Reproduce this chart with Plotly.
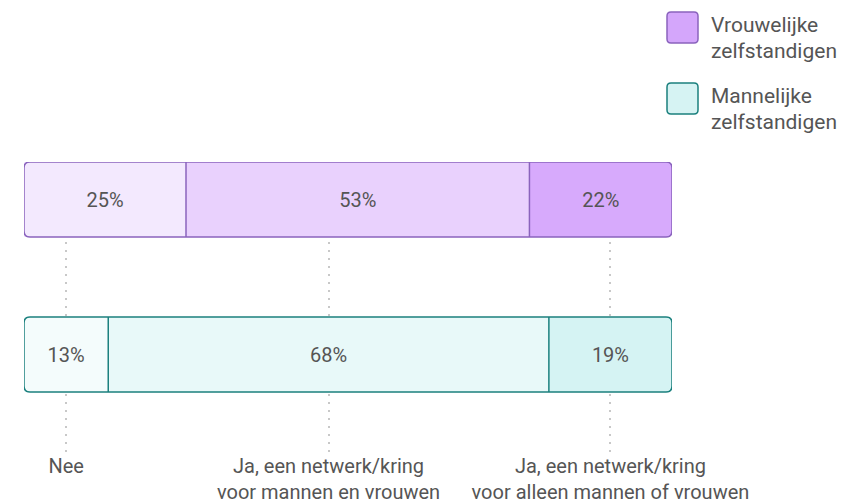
import plotly.graph_objects as go

# ---- data ----
categories = ["Nee",
              "Ja, een netwerk/kring voor mannen en vrouwen",
              "Ja, een netwerk/kring voor alleen mannen of vrouwen"]
tick_labels = ["Nee",
               "Ja, een netwerk/kring<br>voor mannen en vrouwen",
               "Ja, een netwerk/kring<br>voor alleen mannen of vrouwen"]
groups = ["Vrouwelijke zelfstandigen", "Mannelijke zelfstandigen"]
vrouw = [25, 53, 22]
man = [13, 68, 19]
rows = [vrouw, man]
row_pos = [1, 0]

# ---- styles ----
FONT = "Roboto"
TXT = "#555555"
fills = [["#f3e9fe", "#e9d1fd", "#d7aafc"],
         ["#f4fcfc", "#e8f9f9", "#d5f3f3"]]
line_cols = ["#8a63bd", "#1b807e"]
legend_fill = ["#d4a6fb", "#d6f3f3"]

BAR_W = 0.484
R = 6  # px corner radius
# plot area geometry (px) used to convert the corner radius to data units
PLOT_W, PLOT_H = 648, 290
YR = [-0.629, 1.242]
rx = R * 100 / PLOT_W
ry = R * (YR[1] - YR[0]) / PLOT_H

fig = go.Figure()

# segments (fill only), one trace per category so they stack
for i, cat in enumerate(categories):
    fig.add_trace(go.Bar(
        y=row_pos, x=[r[i] for r in rows], orientation="h", width=BAR_W,
        marker=dict(color=[f[i] for f in fills], line=dict(width=0)),
        text=[f"{r[i]}%" for r in rows], textposition="inside",
        insidetextanchor="middle",
        textfont=dict(family=FONT, size=20, color=TXT),
        showlegend=False, hoverinfo="skip", name=cat,
    ))

shapes = []
# outlines and dividers
for k, vals in enumerate(rows):
    yc = row_pos[k]
    y0, y1 = yc - BAR_W / 2, yc + BAR_W / 2
    x0, x1 = 0, sum(vals)
    path = (f"M {x0+rx},{y0} L {x1-rx},{y0} Q {x1},{y0} {x1},{y0+ry} "
            f"L {x1},{y1-ry} Q {x1},{y1} {x1-rx},{y1} L {x0+rx},{y1} "
            f"Q {x0},{y1} {x0},{y1-ry} L {x0},{y0+ry} Q {x0},{y0} {x0+rx},{y0} Z")
    shapes.append(dict(type="path", xref="x", yref="y", path=path, layer="above",
                       line=dict(color=line_cols[k], width=1.5)))
    c = 0
    for v in vals[:-1]:
        c += v
        shapes.append(dict(type="line", xref="x", yref="y", x0=c, x1=c, y0=y0, y1=y1,
                           layer="above", line=dict(color=line_cols[k], width=1.5)))

# tick positions = centres of the male segments
tickvals = []
c = 0
for v in man:
    tickvals.append(c + v / 2)
    c += v

fig.update_layout(
    width=861, height=502,
    margin=dict(l=16, r=197, t=154, b=58, autoexpand=False),
    paper_bgcolor="white", plot_bgcolor="white",
    barmode="stack", barcornerradius=R,
    font=dict(family=FONT, size=20, color=TXT),
    xaxis=dict(range=[0, 100], tickvals=tickvals, ticktext=tick_labels,
               showgrid=True, gridcolor="#c8c8c8", gridwidth=2, griddash="2px,6px",
               zeroline=False, showline=False, ticks="", fixedrange=True,
               automargin=False,
               tickfont=dict(family=FONT, size=20, color=TXT)),
    yaxis=dict(range=YR, showgrid=False, zeroline=False, automargin=False,
               showticklabels=False, showline=False, fixedrange=True),
)

# ---- manual legend ----
annotations = []
swatch_tops = [150, 79]
for k, g in enumerate(groups):
    y1 = swatch_tops[k]
    y0 = y1 - 31
    x0, x1 = -5, 26
    r = 4
    path = (f"M {x0+r},{y0} L {x1-r},{y0} Q {x1},{y0} {x1},{y0+r} "
            f"L {x1},{y1-r} Q {x1},{y1} {x1-r},{y1} L {x0+r},{y1} "
            f"Q {x0},{y1} {x0},{y1-r} L {x0},{y0+r} Q {x0},{y0} {x0+r},{y0} Z")
    shapes.append(dict(type="path", xref="paper", yref="paper",
                       xsizemode="pixel", ysizemode="pixel",
                       xanchor=1, yanchor=1, path=path,
                       fillcolor=legend_fill[k],
                       line=dict(color=line_cols[k], width=1.5)))
    for j, w in enumerate(g.split(" ")):
        annotations.append(dict(text=w, xref="paper", yref="paper", x=1, y=1,
                                xanchor="left", yanchor="middle",
                                xshift=37, yshift=y1 - 13 - 26 * j,
                                showarrow=False,
                                font=dict(family=FONT, size=21, color=TXT)))

fig.update_layout(shapes=shapes, annotations=annotations)

fig.write_html("out.html")
